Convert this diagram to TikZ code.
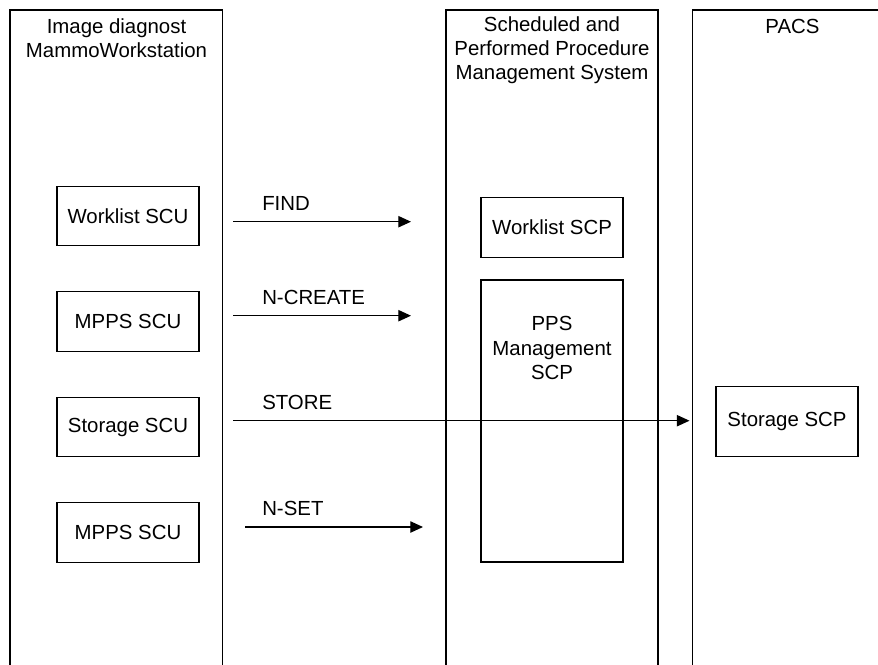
\documentclass[tikz,border=0pt]{standalone}
\usepackage{fontspec}
\setmainfont{Liberation Sans}
\usetikzlibrary{arrows.meta}
\begin{document}
\begin{tikzpicture}[x=0.75pt,y=-0.75pt,
  every node/.style={font=\fontsize{15.3}{18.2}\selectfont},
  col/.style={draw=black,line width=1pt},
  unit/.style={draw=black,line width=0.9pt,minimum width=106.5pt,minimum height=44.5pt,inner sep=0pt},
  msg/.style={draw=black,line width=0.9pt,-{Triangle[length=9.5pt,width=8.5pt]}},
  msglabel/.style={anchor=west,inner sep=0pt},
  title/.style={align=center,inner sep=0pt}]
\useasboundingbox (0,0) rectangle (878,664);
\clip (0,0) rectangle (878,664);
% columns
\draw[col] (10,670) -- (10,10) -- (222.5,10) -- (222.5,670);
\draw[col] (446,670) -- (446,10) -- (658,10) -- (658,670);
\draw[col] (692.5,670) -- (692.5,10) -- (890,10);
% titles
\node[title] (t1) at (116.5,38) {Image diagnost\\MammoWorkstation};
\node[title] (t2) at (552,50) {Scheduled and\\Performed Procedure\\Management System};
\node[title] (t3) at (792.5,26) {PACS};
% left units
\node[unit] (wlscu) at (128,216) {Worklist SCU};
\node[unit] (mpps1) at (128,321.5) {MPPS SCU};
\node[unit] (stscu) at (128,427) {Storage SCU};
\node[unit] (mpps2) at (128,532.5) {MPPS SCU};
% middle units
\node[unit] (wlscp) at (552,227.5) {Worklist SCP};
\node[unit,minimum height=211.5pt] (pps) at (552,421) {};
\node[title] (ppstext) at (552,348) {PPS\\Management\\SCP};
% right unit
\node[unit,minimum height=53pt] (stscp) at (787,421.5) {Storage SCP};
% connector end points
\coordinate (f1) at (233,221.7);
\coordinate (f2) at (411,221.7);
\coordinate (c1) at (233,315.7);
\coordinate (c2) at (411,315.7);
\coordinate (s1) at (233,420.7);
\coordinate (s2) at (689.5,420.7);
\coordinate (n1) at (245.3,527);
\coordinate (n2) at (423,527);
\draw[msg] (f1) -- (f2);
\draw[msg] (c1) -- (c2);
\draw[msg] (s1) -- (s2);
\draw[msg] (n1) -- (n2);
\node[msglabel] (lf) at (262,203) {FIND};
\node[msglabel] (lc) at (262,297) {N-CREATE};
\node[msglabel] (ls) at (262,402.5) {STORE};
\node[msglabel] (ln) at (262,508.5) {N-SET};
\end{tikzpicture}
\end{document}
